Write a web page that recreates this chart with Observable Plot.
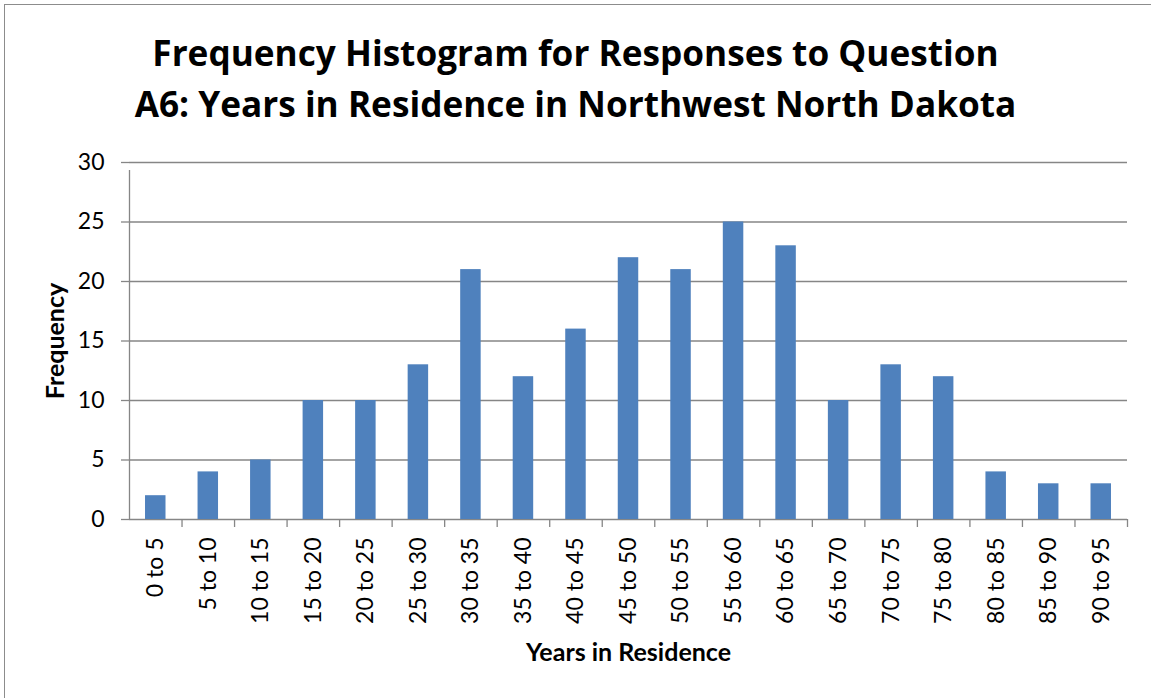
<!DOCTYPE html>
<html><head><meta charset="utf-8">
<script src="https://cdn.jsdelivr.net/npm/d3@7"></script>
<script src="https://cdn.jsdelivr.net/npm/@observablehq/plot@0.6"></script>
<style>
body{margin:0;background:#fff;}
#wrap{position:relative;width:1151px;height:698px;overflow:hidden;font-family:Lato,"Open Sans",sans-serif;background:#fff}
#frame{position:absolute;left:4px;top:4px;width:1200px;height:760px;border:1.5px solid #8c8c8c;box-sizing:border-box}
#title{position:absolute;left:0;width:1151px;top:26.8px;text-align:center;font-family:"Open Sans",sans-serif;font-weight:bold;font-size:35.2px;line-height:51px;color:#000;margin:0}
#chart{position:absolute;left:0;top:0}
</style></head>
<body>
<div id="wrap">
<div id="frame"></div>
<h1 id="title">Frequency Histogram for Responses to Question<br>A6: Years in Residence in Northwest North Dakota</h1>
<div id="chart"></div>
</div>
<script>
const categories = ["0 to 5","5 to 10","10 to 15","15 to 20","20 to 25","25 to 30","30 to 35","35 to 40","40 to 45","45 to 50","50 to 55","55 to 60","60 to 65","65 to 70","70 to 75","75 to 80","80 to 85","85 to 90","90 to 95"];
const frequencies = [2,4,5,10,10,13,21,12,16,22,21,25,23,10,13,12,4,3,3];
const yTicks = [0,5,10,15,20,25,30];
const xTitle = "Years in Residence";
const yTitle = "Frequency";

const data = categories.map((c,i)=>({cat:c, n:frequencies[i]}));
const W = 1151, H = 698;
const mL = 129, mR = 24, mT = 162, mB = 179;
const step = (W - mL - mR) / categories.length;
const grey = "#868686";

const chart = Plot.plot({
  width: W, height: H,
  marginLeft: mL, marginRight: mR, marginTop: mT, marginBottom: mB,
  style: {fontFamily: "Lato, 'Open Sans', sans-serif", background: "transparent", color: "#000"},
  x: {type: "band", domain: categories, paddingInner: 0.61, paddingOuter: 0.305, round: false, label: null},
  y: {domain: [0, 30], label: null},
  marks: [
    Plot.gridY(yTicks, {stroke: grey, strokeOpacity: 1, strokeWidth: 1.3}),
    Plot.barY(data, {x: "cat", y: "n", fill: "#4F81BD"}),
    Plot.ruleX([categories[0]], {y1: 0, y2: 30, insetBottom: -8, dx: -step/2, stroke: grey, strokeWidth: 1.3}),
    Plot.ruleX(categories.slice(1), {y1: 0, y2: 0, insetBottom: -8, dx: -step/2, stroke: grey, strokeWidth: 1.3}),
    Plot.ruleX([categories[categories.length-1]], {y1: 0, y2: 0, insetBottom: -8, dx: step/2, stroke: grey, strokeWidth: 1.3}),
    Plot.axisY({ticks: yTicks, tickSize: 8, tickPadding: 17, fontSize: 23, stroke: grey, strokeWidth: 1.3, label: null}),
    Plot.axisX({tickSize: 0, tickPadding: 18, tickRotate: -90, fontSize: 23, label: null}),
    Plot.text([xTitle], {text: d=>d, frameAnchor: "bottom", lineAnchor: "middle", textAnchor: "middle", dy: 133, fontSize: 25, fontWeight: "bold"}),
    Plot.text([yTitle], {text: d=>d, frameAnchor: "left", lineAnchor: "middle", textAnchor: "middle", dx: -74, rotate: -90, fontSize: 25, fontWeight: "bold"})
  ]
});
document.getElementById("chart").appendChild(chart);
</script>
</body></html>
